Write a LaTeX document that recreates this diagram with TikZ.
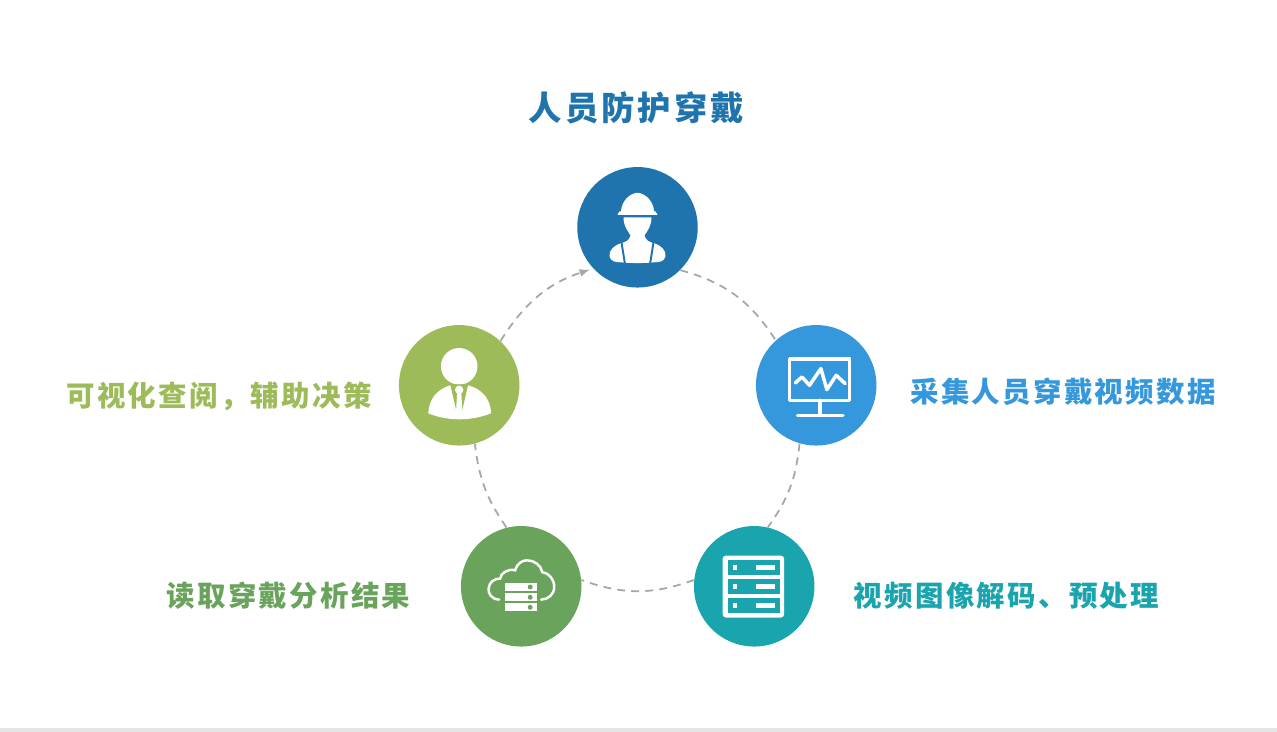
\documentclass[tikz,border=0pt]{standalone}
\usepackage{fontspec}
\newfontfamily\cjktitle[LetterSpace=9]{Noto Sans CJK SC}
\newfontfamily\cjklabel[LetterSpace=8]{Noto Sans CJK SC}
\definecolor{hubblue}{HTML}{1F74AE}
\definecolor{hubsky}{HTML}{3598DC}
\definecolor{hubteal}{HTML}{1AA5AE}
\definecolor{hubgreen}{HTML}{6AA45C}
\definecolor{hubolive}{HTML}{9DBB59}
\definecolor{linkgray}{HTML}{A6A6A6}
\tikzset{
  hub/.style={circle,fill=#1,inner sep=0pt,minimum size=2.41cm},
  lbl/.style={text=#1,font=\fontsize{16.2pt}{19pt}\cjklabel\bfseries,inner sep=0pt},
  link/.style={draw=linkgray,line width=1pt,dash pattern=on 4.5pt off 3.5pt},
  stroke/.style={draw=white,line width=2pt,line cap=round,line join=round}
}
\begin{document}
\begin{tikzpicture}[x=0.02cm,y=-0.02cm]
  \useasboundingbox (0,0) rectangle (1277,732);
  \fill[white] (0,0) rectangle (1277,732);
  \fill[black!10] (0,728) rectangle (1277,732);
  \node[hub=hubblue] (top) at (637.5,227.3) {};
  \node[hub=hubsky] (right) at (816.2,385.3) {};
  \node[hub=hubteal] (lowright) at (754.2,586.3) {};
  \node[hub=hubgreen] (lowleft) at (521.2,586.3) {};
  \node[hub=hubolive] (left) at (459.2,385.3) {};
  \node[text=hubblue,font=\fontsize{19pt}{23pt}\cjktitle\bfseries,inner sep=0pt] (title) at (636.5,107.5) {人员防护穿戴};
  \node[lbl=hubsky] (tright) at (1063,391.5) {采集人员穿戴视频数据};
  \node[lbl=hubteal] (tlowright) at (1006.5,595.3) {视频图像解码、预处理};
  \node[lbl=hubgreen] (tlowleft) at (288.5,595.3) {读取穿戴分析结果};
  \node[lbl=hubolive] (tleft) at (219,396) {可视化查阅\char"FF0C 辅助决策};
  \draw[link] (top.-45) to[bend left=21] (right.132);
  \draw[link] (right.-106) to[bend left=15] (lowright.77);
  \draw[link] (lowright.174) to[bend left=20] (lowleft.6);
  \draw[link] (lowleft.104) to[bend left=14] (left.-75);
  \draw[link,-latex,shorten >=2pt] (left.47) to[bend left=20] (top.-137);
  \begin{scope}[shift={(top)}]
    \fill[white] (-16.5,-16) .. controls (-16,-26) and (-8,-34) .. (0,-34.5) .. controls (8,-34) and (16,-26) .. (16.5,-16) -- (18,-16) -- (20,-12.5) -- (-20,-12.5) -- (-18,-16) -- cycle;
    \fill[white] (-14,-10) -- (14,-10) .. controls (14,-1) and (9,5) .. (7,8) .. controls (8,13) and (12,15) .. (17,16) .. controls (23,18) and (29,23) .. (28,29) .. controls (27,34) and (22,35) .. (17,35) .. controls (8,36) and (-8,36) .. (-17,35) .. controls (-22,35) and (-27,34) .. (-28,29) .. controls (-29,23) and (-23,18) .. (-17,16) .. controls (-12,15) and (-8,13) .. (-7,8) .. controls (-9,5) and (-14,-1) .. (-14,-10) -- cycle;
    \draw[hubblue,line width=1.1pt] (-16,15) -- (-12.5,37) (16,15) -- (12.5,37);
  \end{scope}
  \begin{scope}[shift={(right)}]
    \draw[stroke] (-26.5,-26.5) rectangle (33.5,15);
    \draw[stroke] (3.7,15) -- (3.7,30) (-18.7,30) -- (26.7,30);
    \draw[stroke] (-21,-2.3) -- (-14.3,-8.3) -- (-6.7,0) -- (4.7,-16.7) -- (10.7,4.3) -- (20,-10) -- (29,-1.7);
  \end{scope}
  \begin{scope}[shift={(lowright)}]
    \fill[white,rounded corners=2pt] (-31.7,-30.7) rectangle (30,31.3);
    \foreach \rowy in {-18.5,0.3,19} {
      \fill[hubteal] (-26.7,\rowy-7.4) rectangle (25.3,\rowy+7.4);
      \fill[white] (-21.7,\rowy-2.5) rectangle (-17,\rowy+2.5);
      \fill[white] (2,\rowy-2.5) rectangle (20.7,\rowy+2.5);
    }
  \end{scope}
  \begin{scope}[shift={(lowleft)}]
    \draw[draw=white,line width=1.4pt,line cap=round] (-22,13.3) .. controls (-30,13) and (-33,7) .. (-32.7,2.3) .. controls (-32,-4) and (-27,-8) .. (-21,-7.7) .. controls (-21,-13) and (-13,-18) .. (-6,-16) .. controls (-4,-23) and (1,-26) .. (5.7,-26) .. controls (13,-26) and (20,-21) .. (21,-14.3) .. controls (28,-13) and (33,-7) .. (33,0.7) .. controls (33,8) and (27,13.3) .. (20,13.3);
    \foreach \rowy in {0.7,11,21} {
      \fill[white] (-16,\rowy-4) rectangle (15.7,\rowy+4);
      \fill[hubgreen] (9,\rowy) circle (1.4pt);
    }
  \end{scope}
  \begin{scope}[shift={(left)}]
    \fill[white] (0,-19) circle (18.3);
    \fill[white] (-31,28) .. controls (-30,13) and (-22,4) .. (-9,0) -- (9,0) .. controls (23,4) and (31,13) .. (32,28) .. controls (12,36) and (-12,36) .. (-31,28) -- cycle;
    \fill[hubolive] (-9,-1) -- (9,-1) -- (3,25) -- (-3,25) -- cycle;
    \fill[white] (0,4.5) circle (2.4pt);
    \fill[white] (-2,6) -- (2,6) -- (3.2,27) -- (-3.2,27) -- cycle;
  \end{scope}
\end{tikzpicture}
\end{document}
